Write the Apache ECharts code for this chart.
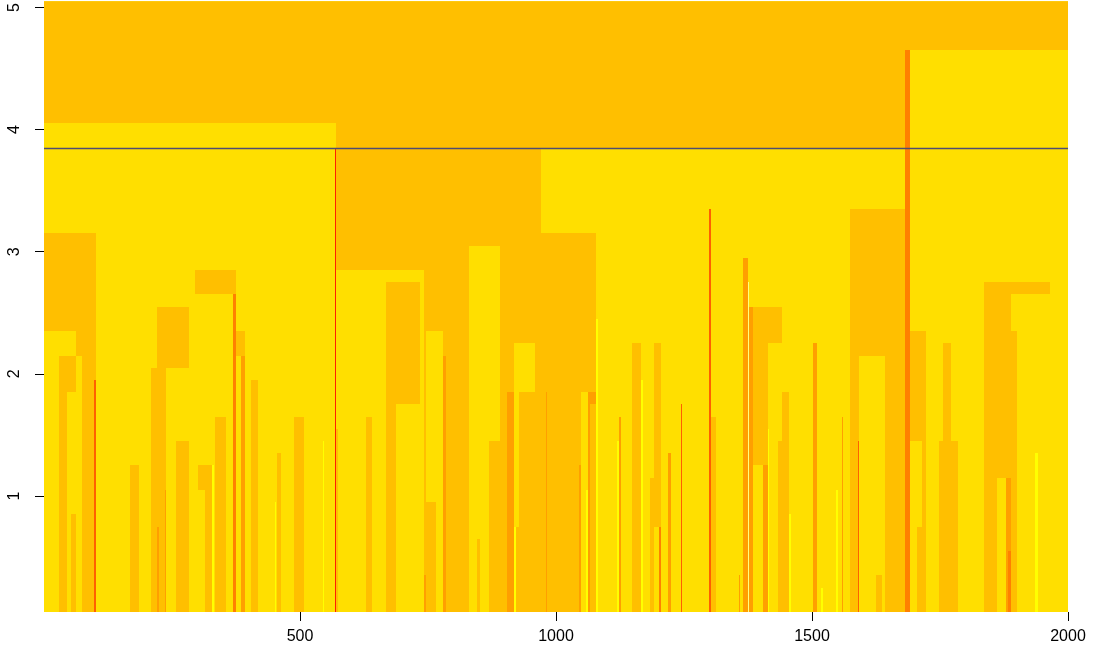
<!DOCTYPE html>
<html>
<head>
<meta charset="utf-8">
<script src="https://cdn.jsdelivr.net/npm/echarts@6/dist/echarts.min.js"></script>
<style>
  html, body { margin: 0; padding: 0; background: #fff; }
  #chart { width: 1099px; height: 657px; }
</style>
</head>
<body>
<div id="chart"></div>
<script>
// heat.colors(12), red -> white
const heatPalette = ['#FF0000', '#FF2000', '#FF4000', '#FF6000', '#FF8000', '#FF9F00',
  '#FFBF00', '#FFDF00', '#FFFF00', '#FFFF2A', '#FFFF80', '#FFFFD5'];

const xTicks = [500, 1000, 1500, 2000];
const yTicks = [1, 2, 3, 4, 5];
const cutHeight = 3.845;

// blocks: [x from, x to, y from, y to, palette level], painted in order
const baseBlocks = [
  [0, 2000, 0.05, 5.05, 7],
  [0, 2000, 4.05, 5.05, 6],
  [570, 2000, 3.845, 4.05, 6],
  [570, 1078, 0.05, 3.845, 6],
  [971, 1078, 3.15, 3.845, 7],
  [569, 571, 0.05, 3.845, 1]
];

const leftBlocks = [
  [0, 102, 2.35, 3.15, 6],
  [62, 102, 2.15, 2.35, 6],
  [74, 102, 0.05, 2.15, 6],
  [29, 62, 1.85, 2.15, 6],
  [29, 45, 0.05, 1.85, 6],
  [53, 62, 0.05, 0.85, 6],
  [98, 102, 0.05, 1.95, 3],
  [168, 186, 0.05, 1.25, 6],
  [209, 238, 0.05, 2.05, 6],
  [221, 283, 2.05, 2.55, 6],
  [221, 225, 0.05, 0.75, 5],
  [236, 238, 0.05, 1.05, 5],
  [258, 283, 0.05, 1.45, 6],
  [295, 375, 2.65, 2.85, 6],
  [301, 328, 1.05, 1.25, 6],
  [314, 328, 0.05, 1.05, 6],
  [328, 332, 0.05, 1.25, 8],
  [334, 355, 0.05, 1.65, 6],
  [369, 375, 0.05, 2.65, 4],
  [375, 393, 2.15, 2.35, 6],
  [385, 393, 0.05, 2.15, 5],
  [404, 418, 0.05, 1.95, 6],
  [455, 463, 0.05, 1.35, 6],
  [452, 454, 0.05, 0.95, 8],
  [488, 508, 0.05, 1.65, 6],
  [544, 546, 0.05, 1.45, 8]
];

const midBlocks = [
  [571, 742, 0.05, 2.85, 7],
  [668, 734, 1.75, 2.75, 6],
  [668, 688, 0.05, 1.75, 6],
  [629, 641, 0.05, 1.65, 6],
  [571, 574, 0.05, 1.55, 6],
  [742, 746, 0.05, 0.35, 5],
  [746, 779, 0.95, 2.35, 7],
  [766, 779, 0.05, 0.95, 7],
  [779, 785, 0.05, 2.15, 5],
  [830, 890, 1.45, 3.05, 7],
  [830, 869, 0.05, 1.45, 7],
  [846, 852, 0.05, 0.65, 6],
  [904, 918, 0.05, 1.85, 5],
  [918, 959, 1.85, 2.25, 7],
  [918, 928, 0.75, 1.85, 7],
  [918, 922, 0.05, 0.75, 8],
  [980, 982, 0.05, 1.85, 5],
  [1049, 1062, 0.05, 1.85, 7],
  [1058, 1062, 0.05, 1.05, 8],
  [1045, 1049, 0.05, 1.25, 5],
  [1062, 1078, 1.75, 1.85, 5],
  [1062, 1066, 0.05, 1.75, 5],
  [1078, 1082, 0.05, 2.45, 8],
  [1119, 1123, 0.05, 1.45, 8],
  [1123, 1127, 0.05, 1.65, 5]
];

const rightBlocks = [
  [1148, 1166, 0.05, 2.25, 6],
  [1166, 1170, 0.05, 1.95, 8],
  [1184, 1191, 0.05, 1.15, 6],
  [1191, 1205, 0.05, 2.25, 6],
  [1191, 1201, 0.05, 0.75, 7],
  [1201, 1205, 0.05, 0.75, 4],
  [1219, 1225, 0.05, 1.35, 5],
  [1244, 1246, 0.05, 1.75, 3],
  [1299, 1303, 0.05, 3.35, 3],
  [1303, 1313, 0.05, 1.65, 6],
  [1358, 1360, 0.05, 0.35, 5],
  [1365, 1375, 0.05, 2.95, 5],
  [1375, 1377, 0.05, 2.75, 10],
  [1377, 1385, 0.05, 2.55, 5],
  [1385, 1441, 2.25, 2.55, 6],
  [1385, 1414, 1.25, 2.25, 6],
  [1404, 1414, 0.05, 1.25, 5],
  [1414, 1416, 0.05, 1.55, 8],
  [1441, 1455, 0.05, 1.85, 6],
  [1433, 1441, 0.05, 1.45, 6],
  [1455, 1459, 0.05, 0.85, 8],
  [1502, 1510, 0.05, 2.25, 5],
  [1517, 1521, 0.05, 0.25, 8],
  [1547, 1551, 0.05, 1.05, 8],
  [1558, 1560, 0.05, 1.65, 5],
  [1574, 1682, 0.05, 3.35, 6],
  [1590, 1592, 0.05, 1.45, 3],
  [1592, 1643, 0.05, 2.15, 7],
  [1625, 1637, 0.05, 0.35, 6],
  [1691, 2000, 0.05, 4.65, 7],
  [1682, 1691, 0.05, 4.65, 4],
  [1691, 1723, 1.45, 2.35, 6],
  [1715, 1723, 0.05, 1.45, 6],
  [1705, 1715, 0.05, 0.75, 6],
  [1756, 1771, 1.45, 2.25, 6],
  [1748, 1785, 0.05, 1.45, 6],
  [1836, 1965, 2.65, 2.75, 6],
  [1836, 1889, 0.05, 2.75, 6],
  [1889, 1900, 0.05, 2.35, 6],
  [1861, 1879, 0.05, 1.15, 7],
  [1879, 1889, 0.05, 1.15, 5],
  [1883, 1889, 0.05, 0.55, 4],
  [1935, 1941, 0.05, 1.35, 8]
];

const blocks = baseBlocks.concat(leftBlocks, midBlocks, rightBlocks);

const chart = echarts.init(document.getElementById('chart'), null, { renderer: 'canvas' });

const axisFont = { fontFamily: 'Liberation Sans, Arial, sans-serif', fontSize: 16, color: '#000' };
const plainNumber = function (v) { return String(v); };

chart.setOption({
  animation: false,
  grid: { left: 44, right: 31, top: 1, bottom: 45 },
  xAxis: {
    type: 'value',
    min: 0,
    max: 2000,
    axisLine: { show: false },
    splitLine: { show: false },
    axisTick: { show: true, length: 9, customValues: xTicks, lineStyle: { color: '#000', width: 1 } },
    axisLabel: Object.assign({ margin: 17, customValues: xTicks, formatter: plainNumber }, axisFont)
  },
  yAxis: {
    type: 'value',
    min: 0.05,
    max: 5.05,
    axisLine: { show: false },
    splitLine: { show: false },
    axisTick: { show: true, length: 9, customValues: yTicks, lineStyle: { color: '#000', width: 1 } },
    axisLabel: Object.assign({ margin: 21, rotate: 90, customValues: yTicks, formatter: plainNumber }, axisFont)
  },
  series: [
    {
      type: 'custom',
      clip: true,
      encode: { x: [0, 1], y: [2, 3] },
      data: blocks,
      renderItem: function (params, api) {
        const a = api.coord([api.value(0), api.value(3)]);
        const b = api.coord([api.value(1), api.value(2)]);
        const x0 = Math.round(a[0]), y0 = Math.round(a[1]);
        const x1 = Math.max(Math.round(b[0]), x0 + 1), y1 = Math.round(b[1]);
        return {
          type: 'rect',
          shape: { x: x0, y: y0, width: x1 - x0, height: y1 - y0 },
          style: { fill: heatPalette[api.value(4)] }
        };
      }
    },
    {
      type: 'line',
      data: [[0, cutHeight], [2000, cutHeight]],
      symbol: 'none',
      lineStyle: { color: '#4f4c72', width: 1.5 },
      z: 5
    }
  ]
});
</script>
</body>
</html>
